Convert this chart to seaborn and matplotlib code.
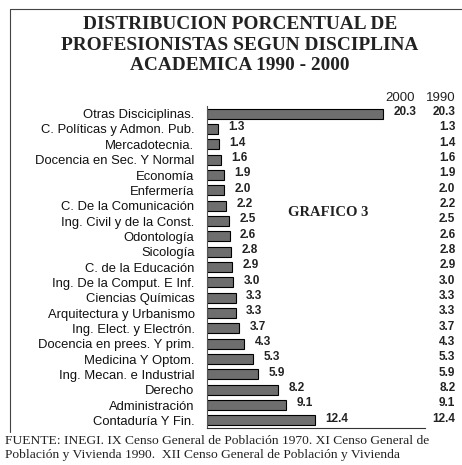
import numpy as np
import pandas as pd
import matplotlib
matplotlib.use("Agg")
import matplotlib.pyplot as plt
import seaborn as sns
from matplotlib.lines import Line2D

disciplinas = [
    "Otras Disciciplinas.", "C. Políticas y Admon. Pub.", "Mercadotecnia.",
    "Docencia en Sec. Y Normal", "Economía", "Enfermería",
    "C. De la Comunicación", "Ing. Civil y de la Const.", "Odontología",
    "Sicología", "C. de la Educación", "Ing. De la Comput. E Inf.",
    "Ciencias Químicas", "Arquitectura y Urbanismo", "Ing. Elect. y Electrón.",
    "Docencia en prees. Y prim.", "Medicina Y Optom.", "Ing. Mecan. e Industrial",
    "Derecho", "Administración", "Contaduría Y Fin.",
]
pct_2000 = [20.3, 1.3, 1.4, 1.6, 1.9, 2.0, 2.2, 2.5, 2.6, 2.8, 2.9, 3.0,
            3.3, 3.3, 3.7, 4.3, 5.3, 5.9, 8.2, 9.1, 12.4]
pct_1990 = [20.3, 1.3, 1.4, 1.6, 1.9, 2.0, 2.2, 2.5, 2.6, 2.8, 2.9, 3.0,
            3.3, 3.3, 3.7, 4.3, 5.3, 5.9, 8.2, 9.1, 12.4]

df = pd.DataFrame({"disciplina": disciplinas, "p2000": pct_2000, "p1990": pct_1990})

sns.set_style("white")
plt.rcParams["font.family"] = ["Liberation Sans", "DejaVu Sans"]

fig = plt.figure(figsize=(4.62, 4.65), dpi=100)
ax = fig.add_axes([207 / 462, 1 - 428 / 465, (425 - 207) / 462, (428 - 106) / 465])

sns.barplot(data=df, y="disciplina", x="p2000", orient="h", color="#6e6e6e",
            edgecolor="black", linewidth=0.8, width=0.65, saturation=1, ax=ax)

ax.set_xlim(0, 25.1)
ax.set_ylim(len(df) - 0.5, -0.5)
ax.set_xlabel("")
ax.set_ylabel("")
ax.set_xticks([])
ax.tick_params(axis="y", which="major", length=0, pad=9, labelsize=9.4, colors="#111111")
ax.set_yticks(np.arange(-0.5, len(df), 1), minor=True)
ax.tick_params(axis="y", which="minor", length=3, width=0.6, color="#555555")
for s in ["top", "right"]:
    ax.spines[s].set_visible(False)
ax.spines["left"].set_color("#555555")
ax.spines["left"].set_linewidth(0.8)
ax.spines["bottom"].set_color("#333333")
ax.spines["bottom"].set_linewidth(0.8)

for i, row in df.iterrows():
    ax.text(row["p2000"] + 1.2, i - 0.1, f"{row['p2000']:.1f}", ha="left", va="center",
            fontsize=8.5, fontweight="bold", color="#222222")
    ax.text(28.6, i - 0.1, f"{row['p1990']:.1f}", ha="right", va="center",
            fontsize=8.5, fontweight="bold", color="#222222", clip_on=False)

ax.text(23.9, -1.0, "2000", ha="right", va="center", fontsize=9.5, color="#222222", clip_on=False)
ax.text(28.6, -1.0, "1990", ha="right", va="center", fontsize=9.5, color="#222222", clip_on=False)

fig.text(328 / 462, 1 - 213 / 465, "GRAFICO 3", ha="center", va="center",
         fontsize=10.5, fontweight="bold", family="Liberation Serif", color="#222222")

fig.text(240 / 462, 1 - 45 / 465,
         "DISTRIBUCION PORCENTUAL DE\nPROFESIONISTAS SEGUN DISCIPLINA\nACADEMICA 1990 - 2000",
         ha="center", va="center", fontsize=13.9, fontweight="bold",
         family="Liberation Serif", color="#222222", linespacing=1.3)

fig.text(5 / 462, 1 - 448 / 465,
         "FUENTE: INEGI. IX Censo General de Población 1970. XI Censo General de\n"
         "Población y Vivienda 1990.  XII Censo General de Población y Vivienda",
         ha="left", va="center", fontsize=9.7, family="Liberation Serif",
         color="#222222", linespacing=1.25)

# marco de la figura
fig.add_artist(Line2D([10 / 462, 10 / 462], [1 - 9 / 465, 1 - 432 / 465],
                      color="#444444", lw=0.8, transform=fig.transFigure))
fig.add_artist(Line2D([10 / 462, 1.0], [1 - 9 / 465, 1 - 9 / 465],
                      color="#444444", lw=0.8, transform=fig.transFigure))

fig.savefig("out.png", dpi=100)
